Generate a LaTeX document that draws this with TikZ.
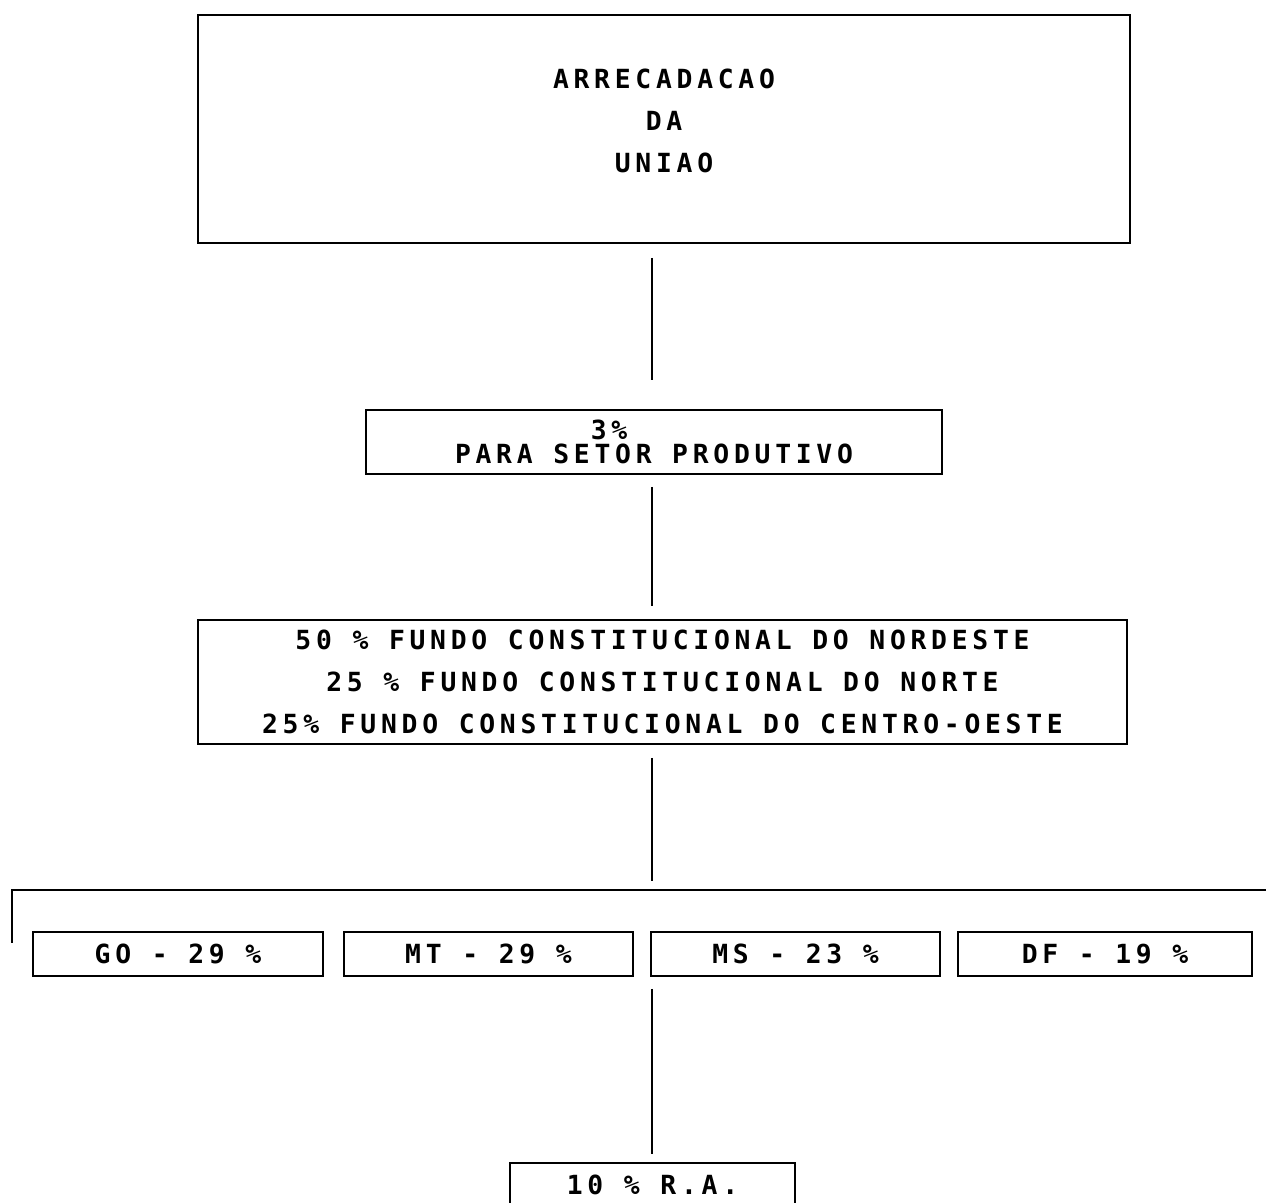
\documentclass[tikz,border=0pt]{standalone}
\usepackage{fontspec}
\newfontfamily\boxfont{DejaVu Sans Mono}[LetterSpace=18]
\usetikzlibrary{positioning}

\begin{document}
\begin{tikzpicture}[x=0.02cm, y=-0.02cm,
    box/.style={draw, line width=1.1pt, inner sep=0pt, align=center,
        font=\boxfont\bfseries\fontsize{15}{23.9}\selectfont},
    link/.style={line width=1.2pt}]
    \useasboundingbox (0,0) rectangle (1266,1202);

    % Top: federal collection
    \node[box, minimum width=18.64cm, minimum height=4.56cm] (uniao) at (664,129)
        {ARRECADACAO\\DA\\UNIAO\\[-14pt]};

    % 3% share
    \node[box, minimum width=11.52cm, minimum height=1.28cm] (setor) at (654,442)
        {3\%\hspace*{1.8cm}\\[-10pt]PARA SETOR PRODUTIVO};

    % constitutional funds
    \node[box, minimum width=18.58cm, minimum height=2.48cm] (fundo) at (662.5,682)
        {50 \% FUNDO CONSTITUCIONAL DO NORDESTE\\
         25 \% FUNDO CONSTITUCIONAL DO NORTE\\
         25\% FUNDO CONSTITUCIONAL DO CENTRO-OESTE};

    % states
    \node[box, minimum width=5.8cm, minimum height=0.88cm] (go) at (178,954) {GO - 29 \%};
    \node[box, minimum width=5.78cm, minimum height=0.88cm] (mt) at (488.5,954) {MT - 29 \%};
    \node[box, minimum width=5.78cm, minimum height=0.88cm] (ms) at (795.5,954) {MS - 23 \%};
    \node[box, minimum width=5.88cm, minimum height=0.88cm] (df) at (1105,954) {DF - 19 \%};

    % bottom box
    \node[box, minimum width=5.7cm, minimum height=0.88cm] (ra) at (652.5,1185) {10 \% R.A.};

    % connectors
    \coordinate (spine) at (652,0);
    \coordinate (busL) at (12,890);
    \coordinate (busR) at (1266,890);
    \coordinate (drop) at (12,943);
    \draw[link, shorten <=0.28cm, shorten >=0.58cm] (uniao.south -| spine) -- (setor.north -| spine);
    \draw[link, shorten <=0.24cm, shorten >=0.26cm] (setor.south -| spine) -- (fundo.north -| spine);
    \draw[link, shorten <=0.26cm, shorten >=0.18cm] (fundo.south -| spine) -- (busL -| spine);
    \draw[link] (busR) -- (busL) -- (drop);
    \draw[link, shorten <=0.24cm, shorten >=0.16cm] (ms.south -| spine) -- (ra.north -| spine);
\end{tikzpicture}
\end{document}
